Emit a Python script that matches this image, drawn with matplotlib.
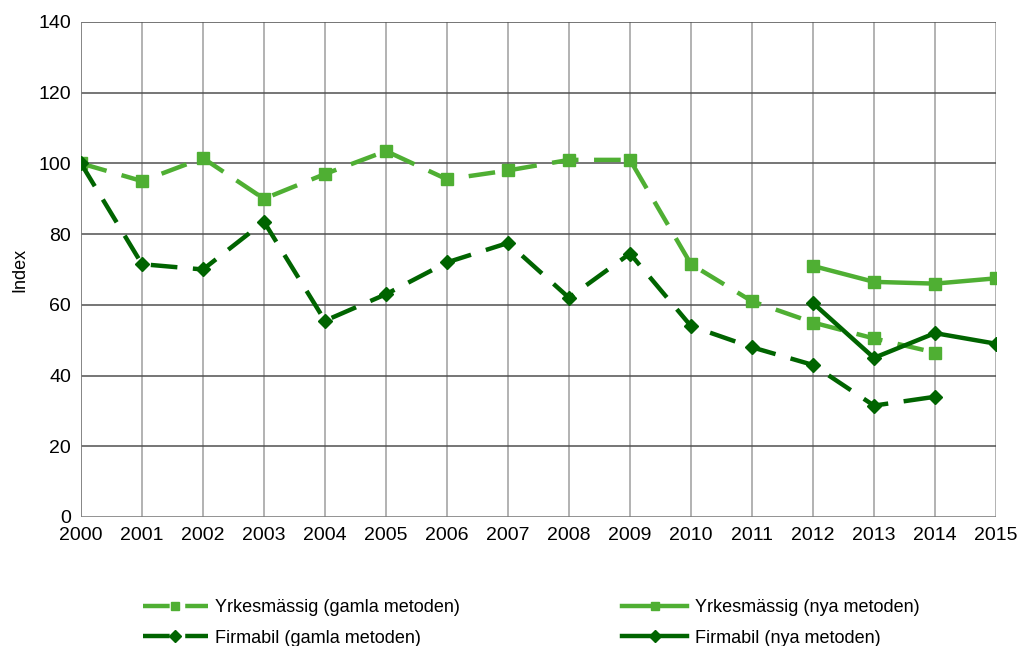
import matplotlib.pyplot as plt
import numpy as np

plt.rcParams["font.family"] = ["Liberation Sans", "DejaVu Sans"]

years = list(range(2000, 2016))
yrk_old_years = list(range(2000, 2015))
yrk_old = [100, 95, 101.5, 90, 97, 103.5, 95.5, 98, 101, 101, 71.5, 61, 55, 50.5, 46.5]
firm_old_years = list(range(2000, 2015))
firm_old = [100, 71.5, 70, 83.5, 55.5, 63, 72, 77.5, 62, 74.5, 54, 48, 43, 31.5, 34]
new_years = [2012, 2013, 2014, 2015]
yrk_new = [71, 66.5, 66, 67.5]
firm_new = [60.5, 45, 52, 49]

light = "#4FAF33"
dark = "#006400"

fig = plt.figure(figsize=(10.21, 6.46), dpi=100)
ax = fig.add_axes([0.0793, 0.1997, 0.8962, 0.7663])

dash = (0, (6, 3.5))
ax.plot(yrk_old_years, yrk_old, color=light, lw=3.2, ls=dash, marker="s", ms=8,
        label="Yrkesmässig (gamla metoden)", zorder=3)
ax.plot(firm_old_years, firm_old, color=dark, lw=3.2, ls=dash, marker="D", ms=7.5,
        label="Firmabil (gamla metoden)", zorder=3)
ax.plot(new_years, yrk_new, color=light, lw=3.2, marker="s", ms=8,
        label="Yrkesmässig (nya metoden)", zorder=4)
ax.plot(new_years, firm_new, color=dark, lw=3.2, marker="D", ms=7.5,
        label="Firmabil (nya metoden)", zorder=4)

ax.set_xlim(2000, 2015)
ax.set_ylim(0, 140)
ax.set_xticks(years)
ax.set_yticks(np.arange(0, 141, 20))
ax.tick_params(labelsize=14, length=0, pad=7)
ax.set_ylabel("Index", fontsize=13, labelpad=7)

for x in years:
    ax.axvline(x, color="#A6A6A6", lw=1.2, zorder=1)
for y in range(20, 141, 20):
    ax.axhline(y, color="#505050", lw=1.1, zorder=1)
for s in ax.spines.values():
    s.set_visible(False)
ax.axhline(0, color="#808080", lw=1.2, zorder=1)
ax.axvline(2000, color="#808080", lw=1.2, zorder=1)

handles, labels = ax.get_legend_handles_labels()
fig.legend(handles, labels, ncol=2, loc="lower center", bbox_to_anchor=(0.52, -0.026),
           frameon=False, fontsize=13, handlelength=3.6, columnspacing=9.0,
           labelspacing=0.75, handletextpad=0.4, markerscale=0.8)

fig.savefig("out.png", dpi=100)
